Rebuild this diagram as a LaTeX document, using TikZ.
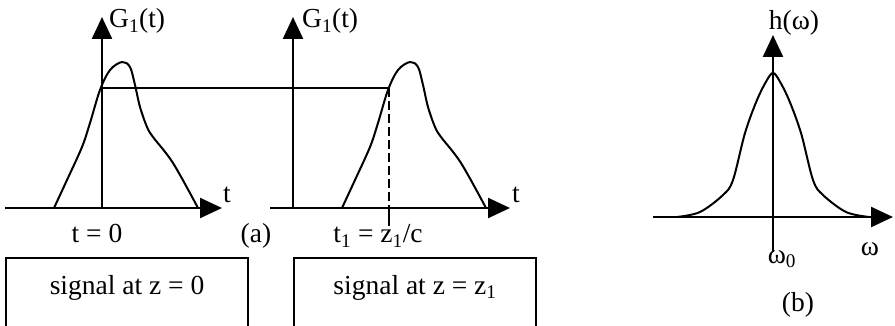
\documentclass[tikz,border=0pt]{standalone}
\usepackage{fontspec}
\setmainfont{Liberation Serif}
\usetikzlibrary{arrows.meta}

\newcommand{\pulseshape}{plot[smooth, tension=0.55] coordinates {(54,208) (67,180) (82,147) (90,123) (100,90) (110,70) (122,62) (130,67) (135,85) (140,107) (147,127) (153,137) (173,163) (198,208)}}
\newcommand{\lineshape}{plot[smooth, tension=0.55] coordinates {(677,217) (700,212) (723,195) (733,180) (745,133) (757,100) (767,80) (773,73) (779,80) (789,100) (801,133) (813,180) (823,195) (846,212) (869,217)}}

\begin{document}
\begin{tikzpicture}[
    x=1pt, y=-1pt,
    font=\fontsize{27.5}{31}\selectfont,
    axis/.style={line width=2.4pt, -{Triangle[length=22pt, width=20pt]}},
    curve/.style={line width=2pt},
    lbl/.style={inner sep=0pt, anchor=base},
    sigbox/.style={draw, line width=2pt, anchor=north west, minimum width=242pt,
                   inner sep=0pt, text height=36pt, text depth=70pt}
  ]
    \useasboundingbox (0,0) rectangle (895,326);

    \coordinate (o1) at (102,208);
    \coordinate (o2) at (293,208);
    \coordinate (o3) at (773,217);

    \draw[axis] (5,208) -- (222,208);
    \draw[axis] (o1) -- (102,17);
    \draw[axis] (270,208) -- (510,208);
    \draw[axis] (o2) -- (293,17);
    \draw[axis] (653,217) -- (893,217);
    \draw[axis] (773,252) -- (773,35);

    \draw[curve] \pulseshape;
    \draw[curve, xshift=288pt] \pulseshape;
    \draw[curve] \lineshape;

    \coordinate (c0) at (102,88);
    \coordinate (c1) at (389,88);
    \coordinate (c2) at (389,208);
    \coordinate (c3) at (389,226);
    \draw[curve] (c0) -- (c1);
    \draw[curve, dash pattern=on 9pt off 4pt] (c1) -- (c2);
    \draw[curve] (c2) -- (c3);

    \node[lbl, anchor=base west] (g1) at (109,28) {G\textsubscript{1}(t)};
    \node[lbl, anchor=base west] (g2) at (302,28) {G\textsubscript{1}(t)};
    \node[lbl] (t1) at (227,203) {t};
    \node[lbl] (t2) at (516,203) {t};
    \node[lbl] (h)  at (794,30)  {h(ω)};
    \node[lbl] (w)  at (870,255) {ω};
    \node[lbl] (w0) at (782,263) {ω\textsubscript{0}};
    \node[lbl] (b)  at (798,311) {(b)};

    \node[lbl] (tz) at (97,243)  {t = 0};
    \node[lbl] (a)  at (256,243) {(a)};
    \node[lbl] (tz1) at (378,243) {t\textsubscript{1} = z\textsubscript{1}/c};

    \node[sigbox] (sig0) at (5,257)   {signal at z = 0};
    \node[sigbox] (sig1) at (293,257) {signal at z = z\textsubscript{1}};
\end{tikzpicture}
\end{document}
